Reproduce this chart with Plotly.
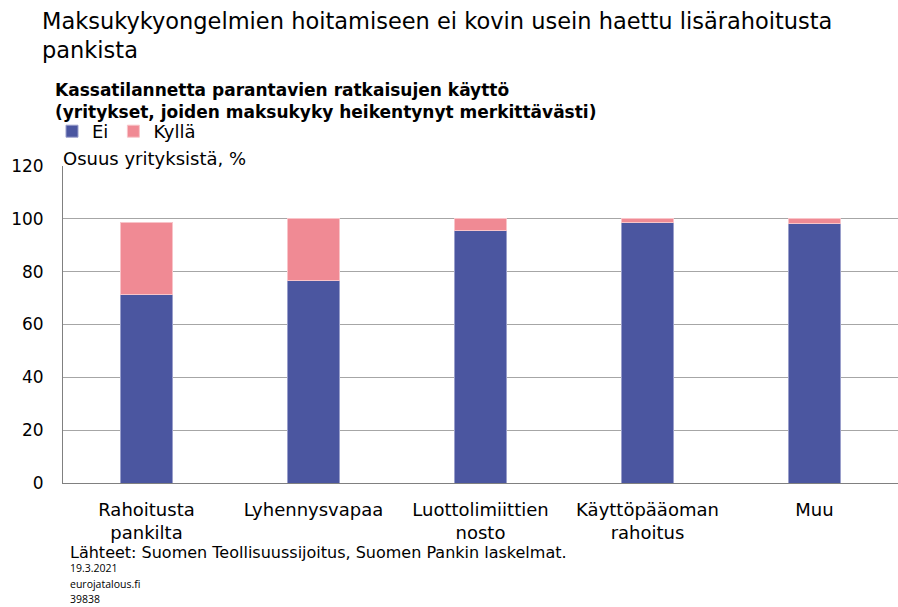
import plotly.graph_objects as go

categories = ["Rahoitusta<br>pankilta", "Lyhennysvapaa", "Luottolimiittien<br>nosto", "Käyttöpääoman<br>rahoitus", "Muu"]
ei_values = [71.2, 76.5, 95.4, 98.6, 98.3]
kylla_values = [27.3, 23.5, 4.6, 1.4, 1.7]
y_ticks = [0, 20, 40, 60, 80, 100, 120]

FONT = "DejaVu Sans, Liberation Sans, sans-serif"
W, H = 898, 607
L, R, T, B = 63, 898, 166, 483

fig = go.Figure()
fig.add_trace(go.Bar(x=categories, y=ei_values, name="Ei",
                     marker=dict(color="#4B56A0", line=dict(color="#9A9FCB", width=1))))
fig.add_trace(go.Bar(x=categories, y=kylla_values, name="Kyllä",
                     marker=dict(color="#F08A94", line=dict(color="#F8C4C9", width=1))))

fig.update_layout(
    width=W, height=H,
    barmode="stack", bargap=0.69,
    paper_bgcolor="white", plot_bgcolor="white",
    margin=dict(l=L, r=W - R, t=T, b=H - B, autoexpand=False),
    font=dict(family=FONT, color="black", size=17),
    showlegend=True,
    legend=dict(orientation="h", xref="container", yref="container",
                x=52 / W, y=1 - 113 / H, xanchor="left", yanchor="top",
                traceorder="normal", font=dict(size=18), itemwidth=30,
                bgcolor="rgba(0,0,0,0)"),
)

fig.update_yaxes(range=[0, 120], tickvals=y_ticks, showgrid=True, gridcolor="#a6a6a6",
                 gridwidth=1, showline=True, linecolor="#808080", linewidth=1,
                 ticks="", ticklabelstandoff=15, tickfont=dict(size=17), zeroline=False,
                 automargin=False)
fig.update_xaxes(showline=True, linecolor="#808080", linewidth=1, ticks="",
                 tickfont=dict(size=18), ticklabelstandoff=10, automargin=False)

def px(x):
    return (x - L) / (R - L)

def py(y):
    return 1 - (y - T) / (B - T)

annos = [
    ("Maksukykyongelmien hoitamiseen ei kovin usein haettu lisärahoitusta<br>pankista", 40, 6, 22.5),
    ("<b>Kassatilannetta parantavien ratkaisujen käyttö<br>(yritykset, joiden maksukyky heikentynyt merkittävästi)</b>", 53, 78, 17),
    ("Osuus yrityksistä, %", 61, 146, 18),
    ("Lähteet: Suomen Teollisuussijoitus, Suomen Pankin laskelmat.", 68, 541, 16),
]
for text, x, y, size in annos:
    fig.add_annotation(text=text, xref="paper", yref="paper", x=px(x), y=py(y),
                       xanchor="left", yanchor="top", showarrow=False, align="left",
                       font=dict(size=size, family=FONT, color="black"))

for txt, yy in [("19.3.2021", 568), ("eurojatalous.fi", 584), ("39838", 599)]:
    fig.add_annotation(text=txt, xref="paper", yref="paper", x=px(69), y=py(yy),
                       xanchor="left", yanchor="middle", showarrow=False, align="left",
                       borderpad=0,
                       font=dict(size=10.5, family="Open Sans, sans-serif", color="black"))

fig.write_html(
    "out.html",
    config={"displayModeBar": False},
    post_script="document.body.style.margin='0';document.documentElement.style.overflow='hidden';"
                "document.body.style.overflow='hidden';",
)
